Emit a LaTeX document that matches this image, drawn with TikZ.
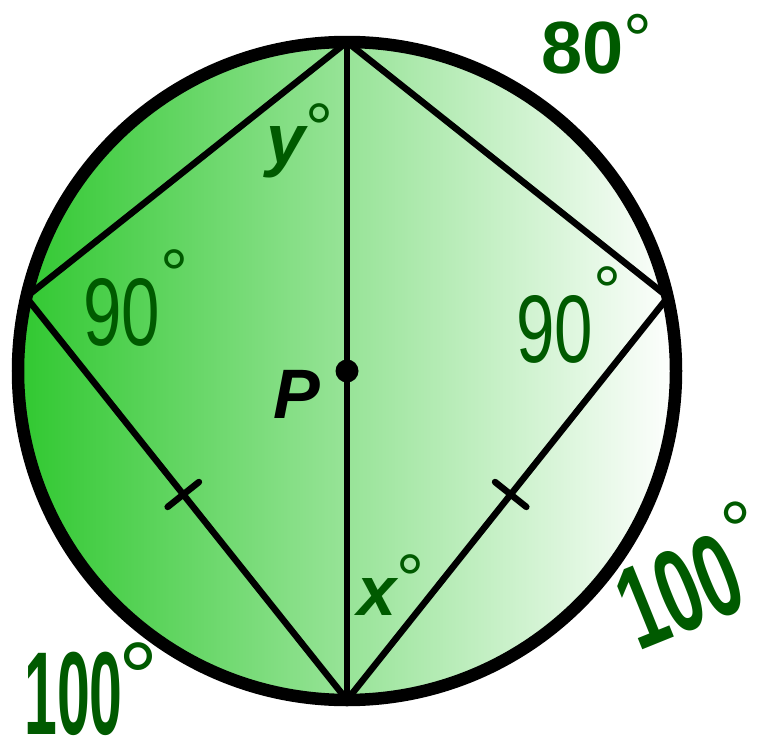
\documentclass[tikz,border=0pt]{standalone}
\usepackage{fontspec}
\usepackage{graphicx}
\setmainfont{Liberation Sans}
\usetikzlibrary{calc}
\definecolor{leafgreen}{RGB}{48,200,48}
\definecolor{inkgreen}{RGB}{0,90,0}
\newcommand{\degmark}[2]{\raisebox{#1}{\fontsize{#2}{#2}\selectfont\mdseries\upshape °}}
\tikzset{
rim/.style={draw=black,line width=12.5pt},
chord/.style={draw=black,line width=6.5pt},
tickmark/.style={draw=black,line width=6.5pt,line cap=round},
boldlabel/.style={
inner sep=0pt,
text=inkgreen,
font=\fontsize{70}{70}\selectfont\bfseries\itshape
},
handlabel/.style={
inner sep=0pt,
text=inkgreen,
font=\fontsize{96}{96}\selectfont
},
inklabel/.style={
inner sep=0pt,
text=inkgreen,
font=\fontsize{118}{118}\selectfont\bfseries
}
}

\begin{document}
\begin{tikzpicture}[x=1pt,y=-1pt]
\useasboundingbox (0,0) rectangle (764,742);
\coordinate (P) at (347,371);
\coordinate (top) at (347,42);
\coordinate (bot) at (347,700);
\coordinate (lft) at (26,297);
\coordinate (rgt) at (668,297);

% disc and chords
\shade[left color=leafgreen,right color=white] (P) circle[radius=329pt];
\draw[chord] (top) -- (lft) -- (bot) -- (rgt) -- cycle;
\draw[chord] (top) -- (bot);
\draw[rim] (P) circle[radius=329pt];
\fill (P) circle[radius=11.5pt];

% equal sides
\coordinate (midL) at ($(lft)!0.49!(bot)$);
\coordinate (midR) at ($(rgt)!0.49!(bot)$);
\draw[tickmark] ($(midL)!20pt!90:(bot)$) -- ($(midL)!20pt!-90:(bot)$);
\draw[tickmark] ($(midR)!20pt!90:(bot)$) -- ($(midR)!20pt!-90:(bot)$);

% labels
\node[boldlabel,text=black,anchor=base] (plab) at (297,418) {P};
\node[boldlabel,anchor=base] (ylab) at (300,163) {y\degmark{11pt}{70}};
\node[boldlabel,anchor=base] (xlab) at (391,615) {x\degmark{12pt}{70}};
\node[inner sep=0pt,text=inkgreen,anchor=base,font=\fontsize{74}{74}\selectfont\bfseries] (eighty) at (597,73) {80\degmark{9pt}{72}};
\node[handlabel,anchor=base] (ninetyL) at (136,345) {\scalebox{0.72}[1]{90}\degmark{47pt}{70}};
\node[handlabel,anchor=base] (ninetyR) at (569,362) {\scalebox{0.72}[1]{90}\degmark{47pt}{70}};
\node[inklabel,anchor=base west] (hundredL) at (24,734) {\scalebox{0.5}[1]{100}\kern-4pt\degmark{22pt}{100}};
\node[inklabel,anchor=base west,rotate=22] (hundredR) at (638,652) {\scalebox{0.62}[1]{100}\kern4pt\degmark{48pt}{80}};
\end{tikzpicture}
\end{document}
